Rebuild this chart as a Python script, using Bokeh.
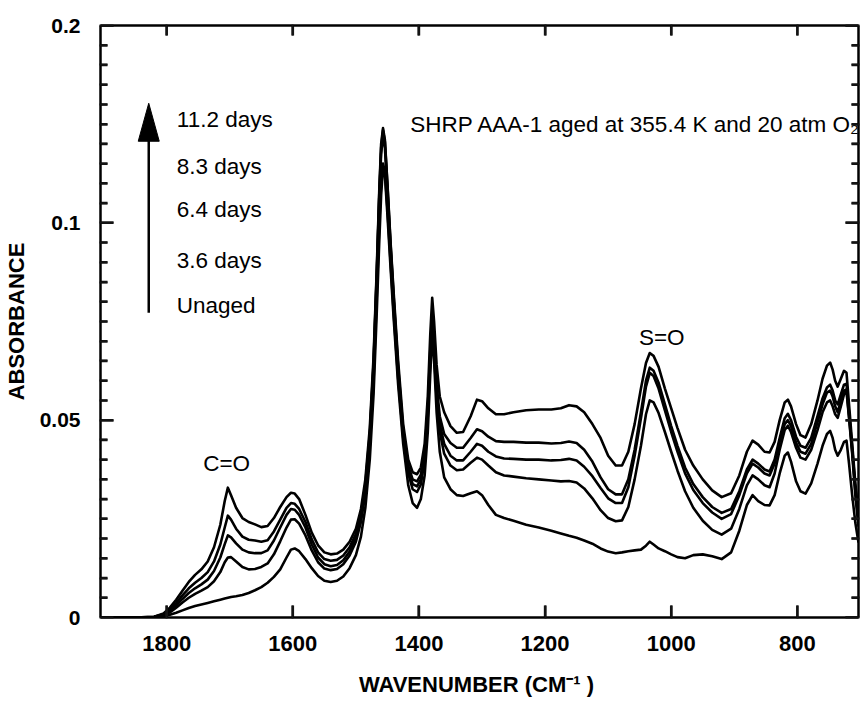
from bokeh.plotting import figure
from bokeh.models import (Range1d, FixedTicker, LinearAxis, CustomJSTickFormatter,
                          ColumnDataSource)
from bokeh.core.properties import value
from bokeh.embed import file_html
from bokeh.resources import INLINE

# ---------------- data ----------------
wavenumber = [
    1905, 1850, 1820, 1805, 1795, 1785, 1775, 1765, 1755, 1745,
    1735, 1725, 1715, 1708, 1703, 1698, 1690, 1680, 1670, 1660,
    1650, 1640, 1630, 1620, 1610, 1603, 1597, 1590, 1580, 1570,
    1560, 1550, 1540, 1530, 1520, 1510, 1500, 1492, 1485, 1478,
    1472, 1467, 1463, 1460, 1457, 1454, 1450, 1445, 1440, 1433,
    1425, 1417, 1410, 1403, 1397, 1391, 1386, 1382, 1379, 1376,
    1372, 1367, 1360, 1350, 1340, 1330, 1318, 1308, 1300, 1290,
    1278, 1265, 1250, 1230, 1210, 1190, 1175, 1162, 1150, 1138,
    1125, 1112, 1100, 1088, 1078, 1068, 1058, 1048, 1040, 1034,
    1028, 1020, 1010, 1000, 990, 978, 965, 950, 935, 920,
    905, 892, 880, 871, 862, 852, 844, 836, 828, 820,
    815, 810, 802, 795, 787, 778, 768, 760, 753, 748,
    744, 740, 736, 731, 726, 722, 718, 713, 708, 703]

days_11_2 = [
    0.0, 0.0, 0.0002, 0.001, 0.0025, 0.0045, 0.0068, 0.009, 0.0108, 0.0122,
    0.0142, 0.0178, 0.0235, 0.0295, 0.0329, 0.031, 0.0278, 0.0252, 0.0242, 0.0236,
    0.0229, 0.0232, 0.0252, 0.028, 0.0305, 0.0316, 0.0314, 0.0300, 0.026, 0.0215,
    0.0183, 0.0165, 0.016, 0.0162, 0.0172, 0.0192, 0.0225, 0.0275, 0.035, 0.048,
    0.066, 0.088, 0.108, 0.120, 0.124, 0.121, 0.110, 0.095, 0.082, 0.065,
    0.049, 0.040, 0.0368, 0.0363, 0.038, 0.044, 0.056, 0.072, 0.081, 0.075,
    0.064, 0.056, 0.052, 0.0485, 0.0468, 0.047, 0.051, 0.0552, 0.0548, 0.053,
    0.0515, 0.0515, 0.052, 0.0525, 0.0527, 0.0527, 0.053, 0.0538, 0.0535, 0.052,
    0.049, 0.0455, 0.041, 0.0385, 0.0385, 0.042, 0.049, 0.058, 0.0645, 0.067,
    0.0663, 0.0635, 0.058, 0.053, 0.048, 0.0425, 0.0385, 0.035, 0.0322, 0.0305,
    0.0315, 0.036, 0.042, 0.0448, 0.0438, 0.042, 0.0418, 0.0445, 0.050, 0.0545,
    0.0552, 0.0535, 0.049, 0.0462, 0.0456, 0.049, 0.055, 0.0605, 0.0638, 0.0646,
    0.0628, 0.060, 0.0585, 0.0605, 0.0625, 0.062, 0.054, 0.044, 0.034, 0.026]

days_8_3 = [
    0.0, 0.0, 0.0002, 0.0008, 0.002, 0.0037, 0.0056, 0.0074, 0.0088, 0.0100,
    0.0115, 0.0142, 0.0185, 0.0228, 0.0258, 0.0248, 0.0225, 0.0205, 0.0197, 0.0195,
    0.0192, 0.0196, 0.0218, 0.0248, 0.0278, 0.029, 0.0288, 0.0275, 0.0242, 0.0198,
    0.0165, 0.0148, 0.0144, 0.0146, 0.0157, 0.0178, 0.0212, 0.0262, 0.0338, 0.0465,
    0.0645, 0.087, 0.107, 0.119, 0.1235, 0.1205, 0.1095, 0.0945, 0.081, 0.0635,
    0.0475, 0.0385, 0.035, 0.0345, 0.0362, 0.042, 0.053, 0.068, 0.076, 0.0705,
    0.059, 0.051, 0.0465, 0.0442, 0.043, 0.043, 0.0455, 0.0477, 0.0472, 0.0458,
    0.0447, 0.0445, 0.0445, 0.0443, 0.0443, 0.0441, 0.0442, 0.0446, 0.0442, 0.0425,
    0.0395, 0.0355, 0.0325, 0.0312, 0.0312, 0.035, 0.0425, 0.052, 0.060, 0.0633,
    0.0625, 0.0595, 0.054, 0.0485, 0.0435, 0.038, 0.0338, 0.0305, 0.028, 0.0265,
    0.0275, 0.032, 0.0375, 0.040, 0.039, 0.0375, 0.037, 0.040, 0.0455, 0.0505,
    0.0516, 0.050, 0.0458, 0.0435, 0.043, 0.0455, 0.051, 0.0555, 0.0583, 0.059,
    0.0575, 0.055, 0.054, 0.0565, 0.059, 0.0592, 0.052, 0.043, 0.033, 0.025]

days_6_4 = [
    0.0, 0.0, 0.0001, 0.0007, 0.0017, 0.0031, 0.0047, 0.0062, 0.0074, 0.0084,
    0.0096, 0.0118, 0.0152, 0.0186, 0.0208, 0.0203, 0.0188, 0.0172, 0.0165, 0.0163,
    0.0163, 0.017, 0.0195, 0.0228, 0.026, 0.0275, 0.0273, 0.026, 0.0228, 0.0185,
    0.0152, 0.0135, 0.013, 0.0133, 0.0145, 0.0167, 0.0202, 0.0252, 0.0328, 0.0455,
    0.0635, 0.086, 0.106, 0.1175, 0.122, 0.119, 0.108, 0.0935, 0.080, 0.0625,
    0.0465, 0.0375, 0.0338, 0.0332, 0.035, 0.041, 0.052, 0.066, 0.074, 0.0685,
    0.057, 0.049, 0.044, 0.041, 0.0398, 0.0398, 0.042, 0.0440, 0.0435, 0.042,
    0.0408, 0.0403, 0.0402, 0.040, 0.040, 0.0398, 0.0399, 0.0402, 0.0398, 0.0382,
    0.0358, 0.0328, 0.0302, 0.029, 0.029, 0.033, 0.041, 0.0505, 0.0585, 0.062,
    0.0612, 0.058, 0.0525, 0.047, 0.042, 0.0365, 0.0323, 0.029, 0.0266, 0.025,
    0.0262, 0.031, 0.0365, 0.039, 0.038, 0.0365, 0.036, 0.039, 0.0445, 0.049,
    0.050, 0.0485, 0.0443, 0.042, 0.0415, 0.044, 0.0495, 0.054, 0.057, 0.0575,
    0.056, 0.0535, 0.052, 0.055, 0.0575, 0.0578, 0.051, 0.042, 0.032, 0.024]

days_3_6 = [
    0.0, 0.0, 0.0001, 0.0005, 0.0013, 0.0025, 0.0038, 0.005, 0.006, 0.0068,
    0.0077, 0.0092, 0.0115, 0.014, 0.0152, 0.0153, 0.0142, 0.0128, 0.0122, 0.0123,
    0.0128, 0.0137, 0.016, 0.0193, 0.0228, 0.0248, 0.0249, 0.0238, 0.0208, 0.017,
    0.014, 0.0124, 0.012, 0.0123, 0.0135, 0.0157, 0.0192, 0.0242, 0.0315, 0.0435,
    0.060, 0.081, 0.0995, 0.110, 0.115, 0.113, 0.1035, 0.090, 0.077, 0.0605,
    0.0455, 0.0365, 0.0325, 0.0318, 0.0337, 0.040, 0.051, 0.065, 0.073, 0.067,
    0.0555, 0.047, 0.0415, 0.0385, 0.0373, 0.0375, 0.0392, 0.0405, 0.040, 0.0385,
    0.0368, 0.036, 0.0357, 0.0353, 0.035, 0.0347, 0.0345, 0.0346, 0.0342, 0.0327,
    0.0302, 0.0272, 0.0252, 0.0244, 0.0246, 0.028, 0.035, 0.0435, 0.0515, 0.055,
    0.0545, 0.0518, 0.047, 0.042, 0.0372, 0.032, 0.0278, 0.0245, 0.0222, 0.021,
    0.0225, 0.0275, 0.0335, 0.036, 0.035, 0.0335, 0.033, 0.0365, 0.0425, 0.0475,
    0.0486, 0.047, 0.043, 0.0405, 0.040, 0.0425, 0.0475, 0.052, 0.0545, 0.055,
    0.0535, 0.0515, 0.0506, 0.0535, 0.0565, 0.0573, 0.0505, 0.0415, 0.031, 0.023]

unaged = [
    0.0, 0.0, 0.0001, 0.0003, 0.0007, 0.0012, 0.0018, 0.0024, 0.0029, 0.0033,
    0.0037, 0.0041, 0.0045, 0.0048, 0.005, 0.0052, 0.0054, 0.0057, 0.0062, 0.0069,
    0.0077, 0.0088, 0.0103, 0.0122, 0.0152, 0.0172, 0.0175, 0.0168, 0.0148, 0.0125,
    0.0105, 0.0093, 0.009, 0.0093, 0.0104, 0.0125, 0.0158, 0.0205, 0.0278, 0.040,
    0.0565, 0.077, 0.095, 0.107, 0.114, 0.112, 0.102, 0.0885, 0.0755, 0.059,
    0.044, 0.0335, 0.029, 0.0278, 0.030, 0.036, 0.047, 0.062, 0.072, 0.065,
    0.052, 0.042, 0.0355, 0.0325, 0.031, 0.0308, 0.0315, 0.032, 0.031, 0.0285,
    0.026, 0.0252, 0.0245, 0.0235, 0.0228, 0.022, 0.0213, 0.0207, 0.0202, 0.0195,
    0.0187, 0.0175, 0.0167, 0.0163, 0.0165, 0.0168, 0.017, 0.0172, 0.0182, 0.0192,
    0.0185, 0.0175, 0.0168, 0.016, 0.0153, 0.015, 0.0158, 0.016, 0.0155, 0.0148,
    0.0165, 0.022, 0.0285, 0.031, 0.0295, 0.0285, 0.0284, 0.031, 0.0365, 0.041,
    0.0418, 0.0395, 0.0345, 0.032, 0.0314, 0.034, 0.039, 0.0435, 0.0465, 0.0473,
    0.0455, 0.0425, 0.041, 0.0425, 0.0445, 0.0448, 0.039, 0.031, 0.024, 0.019]

series_labels = ["11.2 days", "8.3 days", "6.4 days", "3.6 days", "Unaged"]
series_values = [days_11_2, days_8_3, days_6_4, days_3_6, unaged]

xtick_values = [1800, 1600, 1400, 1200, 1000, 800]
ytick_values = [0, 0.05, 0.1, 0.15]
ytick_labels = ["0", "0.05", "0.1", "0.2"]

# ---------------- figure ----------------
FONT = "Liberation Sans"
TICK = "#141414"
W, H = 865, 702
BL, BR, BT, BB = 100, 7, 25, 85
X0, X1 = 1905, 703
Y0, Y1 = 0.0, 0.15

p = figure(width=W, height=H,
           x_range=Range1d(X0, X1), y_range=Range1d(Y0, Y1),
           output_backend="svg", toolbar_location=None,
           min_border_left=BL, min_border_right=BR,
           min_border_top=BT, min_border_bottom=BB,
           x_axis_label="WAVENUMBER  (CM\u207b\u00b9 )",
           y_axis_label="ABSORBANCE")
p.xgrid.visible = False
p.ygrid.visible = False
p.outline_line_color = None

ux = (X0 - X1) / (W - BL - BR)
uy = (Y1 - Y0) / (H - BT - BB)

y_minor = [round(0.005 * i, 3) for i in range(31)]
major_set = set(ytick_values)
ymin_only = [t for t in y_minor if t not in major_set]

yformatter = CustomJSTickFormatter(args=dict(vals=ytick_values, labels=ytick_labels), code="""
let best = 0;
for (let i = 0; i < vals.length; i++) {
  if (Math.abs(vals[i] - tick) < Math.abs(vals[best] - tick)) best = i;
}
return labels[best];
""")
blank = CustomJSTickFormatter(code="return '';")

xa = p.xaxis[0]
xa.ticker = FixedTicker(ticks=xtick_values)
xa.major_tick_in = 12
xa.major_tick_out = 1
xa.major_tick_line_width = 2
xa.major_tick_line_color = TICK
xa.minor_tick_in = 0
xa.minor_tick_out = 0
xa.axis_line_width = 2.5
xa.major_label_text_font = FONT
xa.major_label_text_font_style = "bold"
xa.major_label_text_font_size = "22px"
xa.major_label_text_color = "black"
xa.major_label_standoff = 17
xa.axis_label_text_font = FONT
xa.axis_label_text_font_style = "bold"
xa.axis_label_text_font_size = "22px"
xa.axis_label_text_color = "black"
xa.axis_label_standoff = 18

ya = p.yaxis[0]
ya.ticker = FixedTicker(ticks=ytick_values, minor_ticks=ymin_only)
ya.formatter = yformatter
ya.major_tick_in = 13
ya.major_tick_out = 1
ya.major_tick_line_width = 2
ya.major_tick_line_color = TICK
ya.minor_tick_in = 7
ya.minor_tick_out = 1
ya.minor_tick_line_width = 2
ya.minor_tick_line_color = TICK
ya.axis_line_width = 2.5
ya.major_label_text_font = FONT
ya.major_label_text_font_style = "bold"
ya.major_label_text_font_size = "21px"
ya.major_label_text_color = "black"
ya.major_label_standoff = 19
ya.axis_label_text_font = FONT
ya.axis_label_text_font_style = "bold"
ya.axis_label_text_font_size = "22px"
ya.axis_label_text_color = "black"
ya.axis_label_standoff = 8

top_axis = LinearAxis(ticker=FixedTicker(ticks=xtick_values), formatter=blank,
                      major_tick_in=10, major_tick_out=1, minor_tick_in=0, minor_tick_out=0,
                      major_tick_line_width=2, major_tick_line_color=TICK,
                      axis_line_width=2.5, major_label_standoff=0)
p.add_layout(top_axis, "above")

right_axis = LinearAxis(ticker=FixedTicker(ticks=ytick_values, minor_ticks=ymin_only),
                        formatter=blank,
                        major_tick_in=13, major_tick_out=1, minor_tick_in=7, minor_tick_out=1,
                        major_tick_line_width=2, minor_tick_line_width=2,
                        major_tick_line_color=TICK, minor_tick_line_color=TICK,
                        axis_line_width=2.5, major_label_standoff=0)
p.add_layout(right_axis, "right")

# ---------------- curves ----------------
for vals in series_values:
    p.line(wavenumber, vals, line_color="black", line_width=2.6, line_join="round")

# ---------------- annotations ----------------
legend_src = ColumnDataSource(dict(x=[1784] * len(series_labels),
                                   y=[0.1263, 0.1144, 0.1035, 0.0904, 0.0790],
                                   text=series_labels))
p.text(x="x", y="y", text="text", source=legend_src,
       text_font=value(FONT), text_font_size="22.5px", text_color="black",
       text_align="left", text_baseline="middle")

# arrow: shaft + narrow head, sized in screen pixels
ax_x, ax_y0, ax_y1 = 1828.5, 0.0772, 0.1303
head_len, head_half = 38 * uy, 10.5 * ux
p.line([ax_x, ax_x], [ax_y0, ax_y1 - head_len + uy], line_color="black", line_width=2.5)
p.patch([ax_x, ax_x + head_half, ax_x - head_half],
        [ax_y1, ax_y1 - head_len, ax_y1 - head_len],
        fill_color="black", line_color="black", line_width=1)

band_src = ColumnDataSource(dict(x=[1705, 1015], y=[0.0390, 0.0709], text=["C=O", "S=O"]))
p.text(x="x", y="y", text="text", source=band_src,
       text_font=value(FONT), text_font_size="22.5px", text_color="black",
       text_align="center", text_baseline="middle")

note_src = ColumnDataSource(dict(x=[1414], y=[0.1250],
                                 text=["SHRP AAA-1 aged at 355.4 K and 20 atm O\u2082"]))
p.text(x="x", y="y", text="text", source=note_src,
       text_font=value(FONT), text_font_size="22.5px", text_color="black",
       text_align="left", text_baseline="middle")

# ---------------- inward tick marks ----------------
p.segment(x0=xtick_values, y0=[Y0] * len(xtick_values),
          x1=xtick_values, y1=[Y0 + 12 * uy] * len(xtick_values),
          line_color=TICK, line_width=2.5)
p.segment(x0=xtick_values, y0=[Y1] * len(xtick_values),
          x1=xtick_values, y1=[Y1 - 10 * uy] * len(xtick_values),
          line_color=TICK, line_width=2.5)
p.segment(x0=[X0] * len(ytick_values), y0=ytick_values,
          x1=[X0 - 13 * ux] * len(ytick_values), y1=ytick_values,
          line_color=TICK, line_width=2.5)
p.segment(x0=[X0] * len(ymin_only), y0=ymin_only,
          x1=[X0 - 7 * ux] * len(ymin_only), y1=ymin_only,
          line_color=TICK, line_width=2.5)
p.segment(x0=[X1] * len(ytick_values), y0=ytick_values,
          x1=[X1 + 13 * ux] * len(ytick_values), y1=ytick_values,
          line_color=TICK, line_width=2.5)
p.segment(x0=[X1] * len(ymin_only), y0=ymin_only,
          x1=[X1 + 7 * ux] * len(ymin_only), y1=ymin_only,
          line_color=TICK, line_width=2.5)

open("out.html", "w").write(file_html(p, INLINE))
